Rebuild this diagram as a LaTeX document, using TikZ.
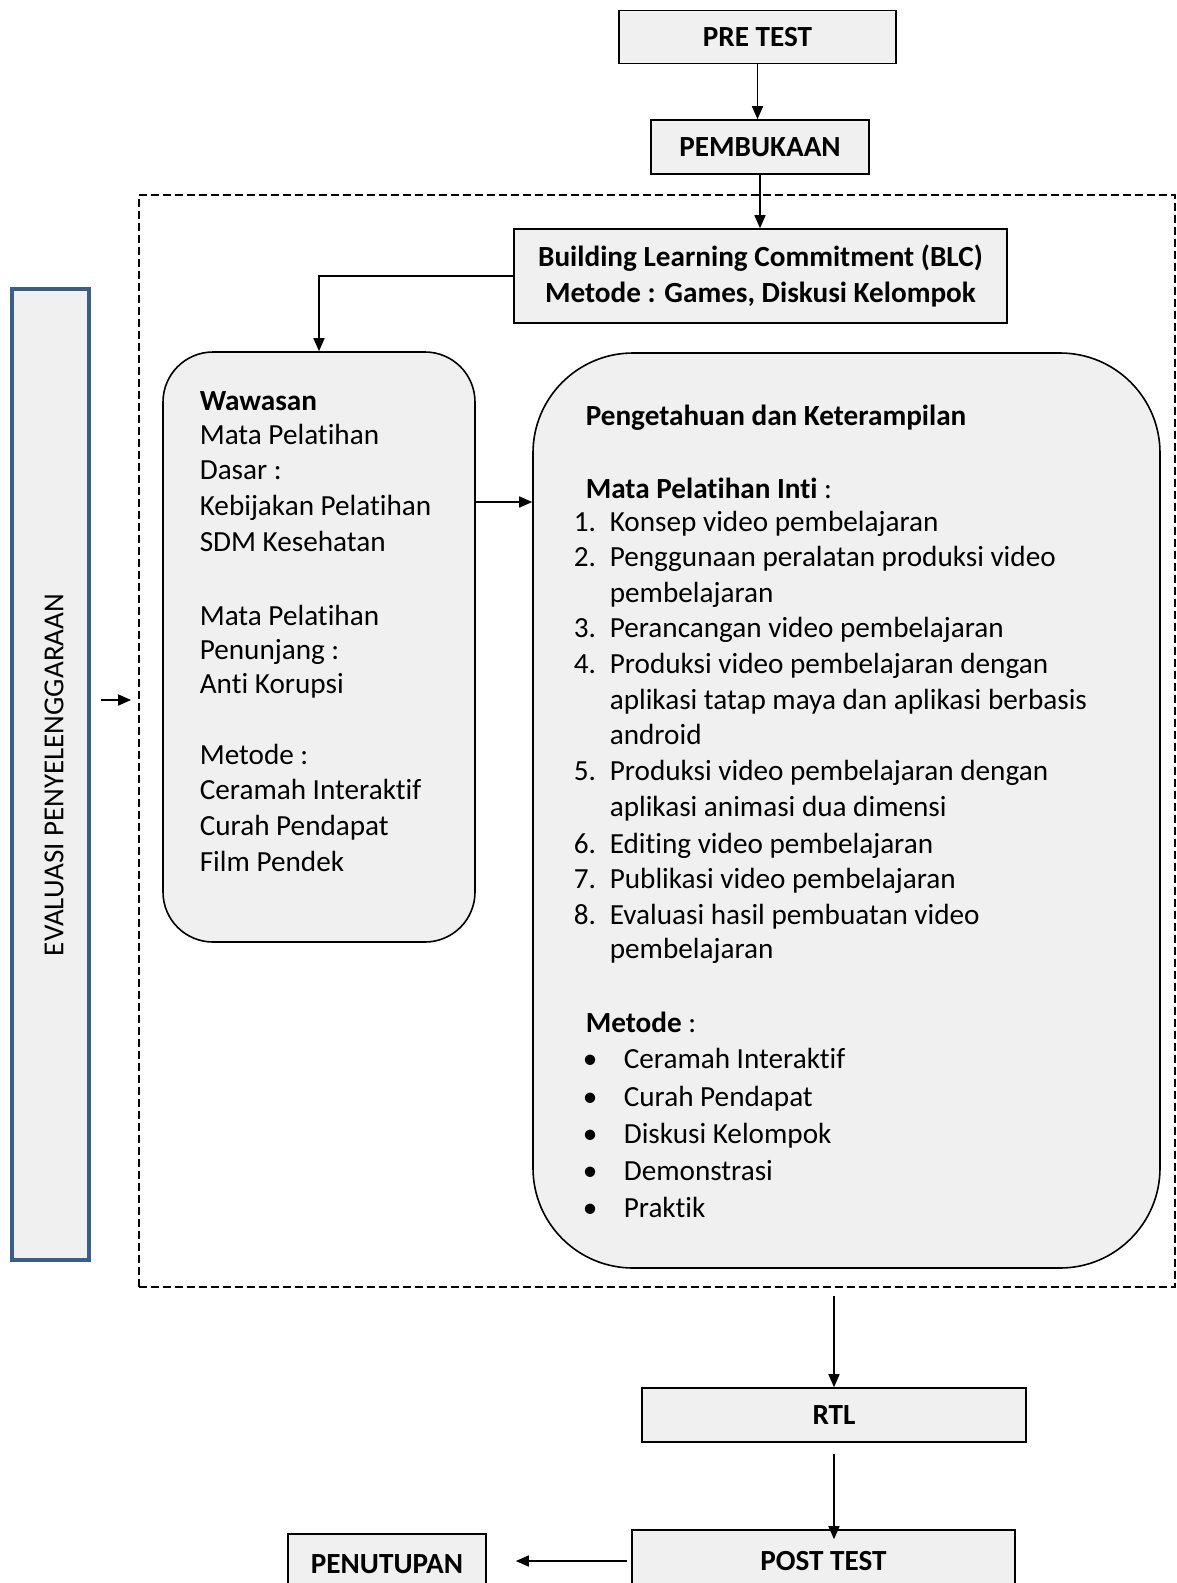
\documentclass[tikz,border=0pt]{standalone}
\usepackage{fontspec}
\setmainfont[Ligatures=NoCommon]{Carlito}
\usetikzlibrary{arrows.meta,calc}

\definecolor{boxgray}{RGB}{240,240,240}
\definecolor{evalblue}{RGB}{58,94,138}

\begin{document}
\begin{tikzpicture}[x=1pt,y=-1pt,>={Triangle[length=13pt,width=11pt]},line width=1.6pt,
    font=\fontsize{29.2}{35.5}\selectfont]
    \tikzstyle{stage}=[draw,fill=boxgray,font=\fontsize{29.2}{35.5}\selectfont\bfseries,inner sep=0pt]
    \tikzstyle{panel}=[draw,fill=boxgray,inner sep=0pt]
    \tikzstyle{txt}=[anchor=base west,inner sep=0pt,yshift=-9.5pt]
    \tikzstyle{flow}=[->,line width=1.6pt]

    \useasboundingbox (0,0) rectangle (1176,1583);
    \clip (0,0) rectangle (1176,1583);

    % dashed frame round the core sessions
    \node[draw,dashed,dash pattern=on 8pt off 4pt,line width=1.8pt,minimum width=1036pt,minimum height=1092pt,inner sep=0pt](frame) at (657,741) {};

    % flow boxes
    \node[stage,minimum width=277pt,minimum height=53pt](pre) at (757.5,37) {PRE TEST};
    \node[stage,minimum width=218pt,minimum height=54pt](pemb) at (760,147) {PEMBUKAAN};
    \node[stage,minimum width=493pt,minimum height=94pt,align=center](blc) at (760.5,276)
        {Building Learning Commitment (BLC)\\Metode : Games, Diskusi Kelompok};
    \node[stage,minimum width=384pt,minimum height=54pt](rtl) at (834,1415) {RTL};
    \node[stage,minimum width=383pt,minimum height=62pt](post) at (823.5,1561) {POST TEST};
    \node[stage,minimum width=198pt,minimum height=60pt](pen) at (387,1564) {PENUTUPAN};

    % evaluation bar
    \node[draw=evalblue,line width=4pt,fill=boxgray,minimum width=77pt,minimum height=971pt,inner sep=0pt](eval) at (50.5,774.5) {};
    \node[rotate=90,inner sep=0pt,font=\fontsize{29}{35}\selectfont](evaltxt) at (54,775) {EVALUASI PENYELENGGARAAN};

    % session panels
    \node[panel,rounded corners=50pt,minimum width=312pt,minimum height=590pt](waw) at (319,647) {};
    \node[panel,rounded corners=100pt,minimum width=627pt,minimum height=915pt](big) at (846.5,810.5) {};

    % left panel text
    \foreach \y/\t [count=\i] in {401/\textbf{Wawasan},435/Mata Pelatihan,470/Dasar :,506/Kebijakan Pelatihan,
        542/SDM Kesehatan,616/Mata Pelatihan,650/Penunjang :,684/Anti Korupsi,755/Metode :,
        790/Ceramah Interaktif,826/Curah Pendapat,862/Film Pendek}
        \node[txt](w\i) at (199,\y) {\t};

    % right panel text
    \node[txt](head) at (585,416) {\textbf{Pengetahuan dan Keterampilan}};
    \node[txt](inti) at (585,489) {\textbf{Mata Pelatihan Inti} :};
    \foreach \n/\y/\t [count=\i] in {1./522/Konsep video pembelajaran,
        2./557/Penggunaan peralatan produksi video,/593/pembelajaran,
        3./628/Perancangan video pembelajaran,
        4./664/Produksi video pembelajaran dengan,/700/aplikasi tatap maya dan aplikasi berbasis,/735/android,
        5./771/Produksi video pembelajaran dengan,/807/aplikasi animasi dua dimensi,
        6./844/Editing video pembelajaran,
        7./879/Publikasi video pembelajaran,
        8./915/Evaluasi hasil pembuatan video,/949/pembelajaran}
    {
        \node[txt](num\i) at (573,\y) {\n};
        \node[txt](item\i) at (609,\y) {\t};
    }
    \node[txt](metode) at (585,1023) {\textbf{Metode} :};
    \foreach \y/\t [count=\i] in {1059/Ceramah Interaktif,1097/Curah Pendapat,1134/Diskusi Kelompok,
        1171/Demonstrasi,1208/Praktik}
    {
        \node[txt](dot\i) at (582,\y) {\textbullet};
        \node[txt](bul\i) at (623,\y) {\t};
    }

    % connectors
    \coordinate (lvl) at (0,502);
    \coordinate (evl) at (0,700);
    \draw[flow] (pre.south) -- (pre.south |- pemb.north);
    \draw[flow] (pemb.south) -- (pemb.south |- blc.north);
    \draw[flow] (blc.west) -| (waw.north);
    \draw[flow] (waw.east |- lvl) -- (big.west |- lvl);
    \draw[flow,shorten <=10pt,shorten >=7pt] (eval.east |- evl) -- (frame.west |- evl);
    \draw[flow,shorten <=8pt] (rtl.north |- frame.south) -- (rtl.north);
    \draw[flow,shorten <=11pt,shorten >=-10pt] (rtl.south) -- (rtl.south |- post.north);
    \draw[flow,shorten <=4pt,shorten >=29pt] (post.west) -- (post.west -| pen.east);
\end{tikzpicture}
\end{document}
